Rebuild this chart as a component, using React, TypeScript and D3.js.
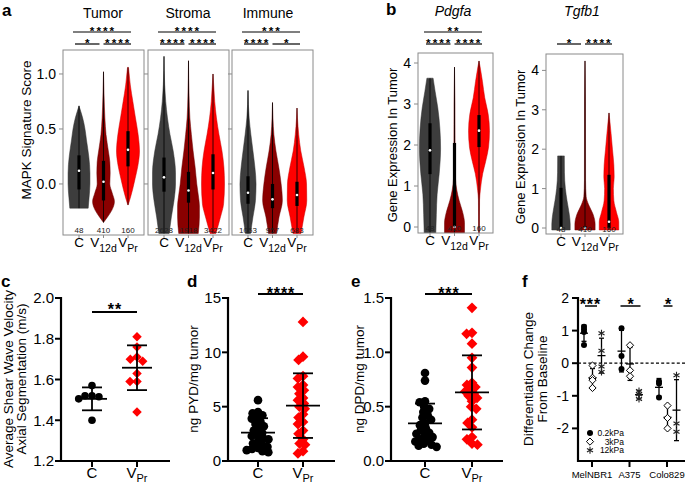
import React from "react";
import * as d3 from "d3";

const FONT = "'Liberation Sans', Arial, Helvetica, sans-serif";
const COLORS = ["#3d3d3d", "#8a0000", "#ff0000"];

// ---------- Panel a data ----------
const conditions = ["C", "V12d", "VPr"];
const catLabels = [
  { main: "C", sub: "" },
  { main: "V", sub: "12d" },
  { main: "V", sub: "Pr" },
];
const compartments = ["Tumor", "Stroma", "Immune"];
const compartmentN = [
  [48, 410, 160],
  [2628, 1918, 3422],
  [1053, 957, 683],
];
const mapkTicks = [0, 0.5, 1.0];
// violin profiles: [score, relative density]
const mapkProfiles = [
  [
    [[-0.22, 0.8], [-0.12, 0.88], [0.0, 0.95], [0.1, 0.95], [0.25, 0.85], [0.4, 0.65], [0.5, 0.52], [0.6, 0.32], [0.66, 0.15], [0.71, 0]],
    [[-0.35, 0], [-0.3, 0.35], [-0.24, 0.72], [-0.16, 0.95], [-0.08, 0.75], [0.0, 0.55], [0.1, 0.58], [0.2, 0.55], [0.3, 0.42], [0.45, 0.22], [0.6, 0.12], [0.8, 0.05], [1.02, 0]],
    [[-0.19, 0.02], [-0.12, 0.22], [-0.05, 0.4], [0.05, 0.62], [0.16, 0.85], [0.3, 1.0], [0.45, 0.88], [0.6, 0.65], [0.75, 0.42], [0.9, 0.2], [1.0, 0.1], [1.06, 0.04]],
  ],
  [
    [[-0.45, 0.45], [-0.3, 0.64], [-0.15, 0.87], [0.0, 1.0], [0.1, 1.0], [0.3, 0.8], [0.45, 0.52], [0.6, 0.3], [0.75, 0.15], [0.9, 0.06], [1.16, 0]],
    [[-0.45, 0.85], [-0.3, 0.95], [-0.2, 0.95], [-0.1, 0.85], [0.0, 0.72], [0.15, 0.58], [0.3, 0.4], [0.45, 0.25], [0.6, 0.12], [0.8, 0.05], [1.12, 0]],
    [[-0.45, 0.25], [-0.3, 0.65], [-0.18, 0.92], [0.0, 1.0], [0.15, 0.95], [0.3, 0.78], [0.45, 0.52], [0.6, 0.3], [0.75, 0.15], [0.9, 0.06], [1.0, 0]],
  ],
  [
    [[-0.45, 0.22], [-0.3, 0.43], [-0.15, 0.65], [0.0, 0.7], [0.15, 0.6], [0.3, 0.43], [0.45, 0.25], [0.6, 0.1], [0.85, 0]],
    [[-0.45, 0.35], [-0.3, 0.57], [-0.15, 0.86], [0.0, 0.75], [0.15, 0.55], [0.3, 0.3], [0.45, 0.12], [0.6, 0.04], [0.74, 0]],
    [[-0.45, 0.35], [-0.3, 0.6], [-0.15, 0.85], [0.0, 0.83], [0.15, 0.62], [0.3, 0.33], [0.45, 0.15], [0.6, 0.04], [0.69, 0]],
  ],
];
// [q1, median, q3]
const mapkBoxes = [
  [[-0.05, 0.12, 0.26], [-0.15, 0.02, 0.21], [0.16, 0.31, 0.48]],
  [[-0.07, 0.06, 0.24], [-0.17, -0.06, 0.11], [-0.05, 0.1, 0.27]],
  [[-0.18, -0.08, 0.07], [-0.22, -0.14, 0.0], [-0.2, -0.1, 0.02]],
];
const mapkSig = [
  [{ from: 0, to: 2, label: "****", level: 0 }, { from: 0, to: 1, label: "*", level: 1 }, { from: 1, to: 2, label: "****", level: 1 }],
  [{ from: 0, to: 2, label: "****", level: 0 }, { from: 0, to: 1, label: "****", level: 1 }, { from: 1, to: 2, label: "****", level: 1 }],
  [{ from: 0, to: 2, label: "***", level: 0 }, { from: 0, to: 1, label: "****", level: 1 }, { from: 1, to: 2, label: "*", level: 1 }],
];

// ---------- Panel b data ----------
const genes = ["Pdgfa", "Tgfb1"];
const geneN = [48, 410, 160];
const geneTicks = [0, 1, 2, 3, 4];
const geneProfiles = [
  [
    [[-0.2, 0.5], [0.3, 0.55], [0.8, 0.62], [1.3, 0.8], [1.9, 0.92], [2.4, 0.86], [2.9, 0.68], [3.3, 0.45], [3.63, 0.27]],
    [[-0.2, 0.87], [0.1, 0.87], [0.35, 0.72], [0.65, 0.4], [0.9, 0.2], [1.2, 0.08], [2.0, 0.05], [3.0, 0.04], [3.9, 0]],
    [[-0.2, 0.03], [0.66, 0.05], [0.9, 0.12], [1.3, 0.32], [1.6, 0.58], [1.95, 0.83], [2.35, 0.91], [2.75, 0.8], [3.15, 0.5], [3.55, 0.3], [3.9, 0.1], [4.05, 0]],
  ],
  [
    [[-0.05, 0.8], [0.1, 0.8], [0.35, 0.72], [0.7, 0.52], [1.0, 0.38], [1.4, 0.3], [1.83, 0.29]],
    [[-0.05, 0.88], [0.1, 0.88], [0.35, 0.7], [0.6, 0.3], [0.8, 0.1], [1.2, 0.05], [3.2, 0.04], [4.24, 0]],
    [[-0.05, 0.85], [0.15, 0.85], [0.4, 0.65], [0.7, 0.42], [1.0, 0.38], [1.3, 0.45], [1.6, 0.42], [2.0, 0.3], [2.4, 0.18], [2.7, 0.08], [2.92, 0]],
  ],
];
const geneBoxes = [
  [[1.29, 1.87, 2.53], [0, 0, 2.05], [1.95, 2.35, 2.73]],
  [[0, 0, 1.02], [0, 0, 0.05], [0, 0.16, 1.35]],
];
const geneSig = [
  [{ from: 0, to: 2, label: "**", level: 0 }, { from: 0, to: 1, label: "****", level: 1 }, { from: 1, to: 2, label: "****", level: 1 }],
  [{ from: 0, to: 1, label: "*", level: 1 }, { from: 1, to: 2, label: "****", level: 1 }],
];

// ---------- Panels c, d, e data ----------
const groupsCE = ["C", "VPr"];
const shearC = [1.57, 1.52, 1.515, 1.505, 1.52, 1.4];
const shearVPr = [1.81, 1.76, 1.7, 1.71, 1.69, 1.63, 1.59, 1.59, 1.44];
const shearTicks = [1.2, 1.4, 1.6, 1.8, 2.0];
const pydC = [5.6, 4.5, 4.4, 4.2, 4.0, 3.9, 3.6, 3.4, 3.2, 3.0, 2.8, 2.6, 2.4, 2.3, 2.1, 2.0, 1.8, 1.6, 1.5, 1.3, 1.2, 1.1, 1.0, 0.9, 0.8];
const pydVPr = [12.8, 9.6, 9.3, 7.8, 7.6, 7.0, 6.8, 6.5, 6.2, 5.8, 5.6, 5.3, 5.0, 4.8, 4.3, 4.0, 3.6, 3.4, 2.8, 2.5, 2.0, 1.6, 1.5, 0.9, 0.7];
const pydTicks = [0, 5, 10, 15];
const dpdC = [0.81, 0.74, 0.55, 0.54, 0.5, 0.48, 0.45, 0.42, 0.4, 0.38, 0.35, 0.33, 0.3, 0.28, 0.26, 0.25, 0.23, 0.22, 0.2, 0.19, 0.18, 0.16, 0.15, 0.14, 0.13];
const dpdVPr = [1.41, 1.18, 1.17, 1.08, 0.95, 0.86, 0.72, 0.7, 0.68, 0.66, 0.64, 0.62, 0.6, 0.58, 0.55, 0.5, 0.48, 0.38, 0.35, 0.31, 0.22, 0.2, 0.16, 0.15];
const dpdTicks = [0, 0.5, 1.0, 1.5];

// ---------- Panel f data ----------
const cellLines = ["MelNBR1", "A375", "Colo829"];
const stiffness = ["0.2kPa", "3kPa", "12kPa"];
const diffValues = [
  [[1.12, 1.04, 0.96, 0.56], [-0.07, -0.45, -0.52, -0.76], [0.92, 0.38, -0.1, -0.27]],
  [[1.07, 0.22, -0.18], [0.55, -0.22, -0.4], [-0.85, -0.95, -1.1]],
  [[-0.55, -0.62, -1.05], [-1.3, -1.68, -2.0], [-0.37, -1.85, -2.1]],
];
const diffTicks = [-2, -1, 0, 1, 2];
const diffSig = ["***", "*", "*"];

// ---------- helpers ----------
function beeswarm(values: number[], y: (v: number) => number, minDist: number) {
  const order = values.map((v, i) => ({ i, py: y(v) })).sort((a, b) => a.py - b.py);
  const placed: { x: number; y: number }[] = [];
  const out: number[] = new Array(values.length).fill(0);
  for (const p of order) {
    const iv: [number, number][] = [];
    for (const q of placed) {
      const dy = Math.abs(q.y - p.py);
      if (dy < minDist) {
        const dx = Math.sqrt(minDist * minDist - dy * dy);
        iv.push([q.x - dx, q.x + dx]);
      }
    }
    const cands = [0];
    iv.forEach(([a, b]) => cands.push(a, b));
    cands.sort((a, b) => Math.abs(a) - Math.abs(b) || a - b);
    let chosen = 0;
    for (const c of cands) {
      if (iv.every(([a, b]) => c <= a + 1e-6 || c >= b - 1e-6)) {
        chosen = c;
        break;
      }
    }
    placed.push({ x: chosen, y: p.py });
    out[p.i] = chosen;
  }
  return out;
}

const diamondPath = (r: number) => `M0,${-r}L${r},0L0,${r}L${-r},0Z`;

function Stars({ x, cy, label, fs, ls }: { x: number; cy: number; label: string; fs: number; ls: number }) {
  return (
    <text x={x + ls / 2} y={cy + 0.57 * fs} textAnchor="middle" fontSize={fs} fontWeight="bold" fontFamily={FONT} letterSpacing={ls}>
      {label}
    </text>
  );
}

function CatLabel({ x, y, i, fs, subFs, subDy }: any) {
  const c = catLabels[i];
  return (
    <text x={x} y={y} textAnchor="middle" fontSize={fs} fontFamily={FONT}>
      {c.main}
      {c.sub && (
        <tspan fontSize={subFs} dy={subDy}>
          {c.sub}
        </tspan>
      )}
    </text>
  );
}

function ViolinPanel({ id, left, right, top, bottom, domain, profiles, boxes, ticks, tickFmt, showLabels, nCounts, sig, title, italic, titleX, titleY, padL, padR, half }: any) {
  const y = d3.scaleLinear().domain(domain).range([bottom, top]);
  const x = d3.scalePoint<string>().domain(conditions).range([left + padL, right - padR]);
  const area = d3
    .area<number[]>()
    .y((d) => y(d[0]))
    .x0((d) => 0 - d[1] * half)
    .x1((d) => 0 + d[1] * half)
    .curve(d3.curveMonotoneY);
  const sigY = [32, 44];
  return (
    <g>
      <defs>
        <clipPath id={id}>
          <rect x={left} y={top} width={right - left} height={bottom - top} />
        </clipPath>
      </defs>
      <g clipPath={`url(#${id})`}>
        {profiles.map((p: number[][], i: number) => {
          const cx = x(conditions[i])!;
          const b = boxes[i];
          return (
            <g key={i} transform={`translate(${cx},0)`}>
              <path d={area(p) || ""} fill={COLORS[i]} stroke={d3.color(COLORS[i])!.darker(0.7).toString()} strokeWidth={0.5} />
              <line x1={0} x2={0} y1={y(p[0][0])} y2={y(p[p.length - 1][0])} stroke="#000" strokeWidth={0.8} />
              <rect x={-1.6} width={3.2} y={y(b[2])} height={Math.max(0.5, y(b[0]) - y(b[2]))} fill="#000" />
              <circle cx={0} cy={y(b[1])} r={1.3} fill="#fff" />
            </g>
          );
        })}
      </g>
      <rect x={left} y={top} width={right - left} height={bottom - top} fill="none" stroke="#8a8a8a" strokeWidth={1} />
      {ticks.map((t: number) => (
        <g key={t}>
          <line x1={left - 4} x2={left} y1={y(t)} y2={y(t)} stroke="#8a8a8a" />
          {showLabels && (
            <text x={left - 7} y={y(t)} dy="0.36em" textAnchor="end" fontSize={14} fontFamily={FONT}>
              {tickFmt(t)}
            </text>
          )}
        </g>
      ))}
      {conditions.map((c, i) => (
        <g key={c}>
          <line x1={x(c)} x2={x(c)} y1={bottom} y2={bottom + 3} stroke="#8a8a8a" />
          <text x={x(c)} y={bottom - 2} textAnchor="middle" fontSize={8} fill="#222" fontFamily={FONT}>
            {nCounts[i]}
          </text>
          <CatLabel x={x(c)} y={bottom + 11.5} i={i} fs={13.5} subFs={10.5} subDy={5} />
        </g>
      ))}
      <text x={titleX} y={titleY} textAnchor="middle" fontSize={14} fontStyle={italic ? "italic" : "normal"} fontFamily={FONT}>
        {title}
      </text>
      {sig.map((s: any, k: number) => {
        const x1 = s.level === 0 ? x(conditions[s.from])! - 6 : x(conditions[s.from])! - (s.from === 0 ? 4 : 0);
        const x2 = s.level === 0 ? x(conditions[s.to])! + 3 : x(conditions[s.to])! + (s.to === 2 ? 3 : -4);
        const ly = sigY[s.level];
        return (
          <g key={k}>
            <line x1={x1} x2={x2} y1={ly} y2={ly} stroke="#000" strokeWidth={1.2} />
            <Stars x={(x1 + x2) / 2} cy={ly - 4} label={s.label} fs={11.8} ls={2} />
          </g>
        );
      })}
    </g>
  );
}

function ErrorBar({ cx, y, values, meanHalf, capHalf, sw }: any) {
  const m = d3.mean(values)!;
  const sd = d3.deviation(values)!;
  return (
    <g stroke="#000" strokeWidth={sw}>
      <line x1={cx} x2={cx} y1={y(m + sd)} y2={y(m - sd)} />
      <line x1={cx - meanHalf} x2={cx + meanHalf} y1={y(m)} y2={y(m)} />
      <line x1={cx - capHalf} x2={cx + capHalf} y1={y(m + sd)} y2={y(m + sd)} />
      <line x1={cx - capHalf} x2={cx + capHalf} y1={y(m - sd)} y2={y(m - sd)} />
    </g>
  );
}

function ScatterPanel({ axisX, xEnd, catRange, domain, ticks, tickFmt, series, labelLines, labelXs, sigLabel, sigCy, sigY, r, minDist, meanHalf, capHalf, letter, letterX }: any) {
  const top = 298;
  const bottom = 461;
  const y = d3.scaleLinear().domain(domain).range([bottom, top]);
  const x = d3.scalePoint<string>().domain(groupsCE).range(catRange);
  const labelCy = 379;
  return (
    <g>
      <text x={letterX} y={287} fontSize={17} fontWeight="bold" fontFamily={FONT}>
        {letter}
      </text>
      {series.map((vals: number[], gi: number) => {
        const offs = beeswarm(vals, y, minDist);
        const cx = x(groupsCE[gi])!;
        return (
          <g key={gi}>
            {vals.map((v, k) =>
              gi === 0 ? (
                <circle key={k} cx={cx + offs[k]} cy={y(v)} r={r} fill="#000" />
              ) : (
                <path key={k} d={diamondPath(r * 1.25)} transform={`translate(${cx + offs[k]},${y(v)})`} fill="#ff0000" />
              )
            )}
            <ErrorBar cx={cx} y={y} values={vals} meanHalf={meanHalf} capHalf={capHalf} sw={1.8} />
          </g>
        );
      })}
      <line x1={axisX} x2={axisX} y1={top - 1} y2={bottom + 1} stroke="#000" strokeWidth={2.2} />
      <line x1={axisX - 1} x2={xEnd} y1={bottom} y2={bottom} stroke="#000" strokeWidth={2.2} />
      {ticks.map((t: number) => (
        <g key={t}>
          <line x1={axisX - 6} x2={axisX} y1={y(t)} y2={y(t)} stroke="#000" strokeWidth={2} />
          <text x={axisX - 7} y={y(t)} dy="0.36em" textAnchor="end" fontSize={15} fontFamily={FONT}>
            {tickFmt(t)}
          </text>
        </g>
      ))}
      {groupsCE.map((g, i) => (
        <g key={g}>
          <line x1={x(g)} x2={x(g)} y1={bottom} y2={bottom + 6} stroke="#000" strokeWidth={2} />
          <CatLabel x={x(g)} y={478} i={i === 0 ? 0 : 2} fs={15} subFs={11} subDy={4} />
        </g>
      ))}
      {labelLines.map((l: string, k: number) => (
        <text key={k} transform={`translate(${labelXs[k]},${labelCy}) rotate(-90)`} textAnchor="middle" fontSize={13.5} fontFamily={FONT}>
          {l}
        </text>
      ))}
      <line x1={x(groupsCE[0])} x2={x(groupsCE[1])} y1={sigY} y2={sigY} stroke="#000" strokeWidth={1.8} />
      <Stars x={(x(groupsCE[0])! + x(groupsCE[1])!) / 2} cy={sigCy} label={sigLabel} fs={16} ls={0.8} />
    </g>
  );
}

function PanelF() {
  const axisX = 578;
  const top = 298;
  const bottom = 461;
  const y = d3.scaleLinear().domain([-3, 2]).range([bottom, top]);
  const x = d3.scalePoint<string>().domain(cellLines).range([592, 667]);
  const offsets = [-8, 0.5, 9.5];
  const asterisk = d3.symbol(d3.symbolAsterisk, 34)()!;
  const marker = (si: number, key: any, cx: number, cy: number) => {
    if (si === 0) return <circle key={key} cx={cx} cy={cy} r={3} fill="#000" />;
    if (si === 1) return <path key={key} d={diamondPath(3.6)} transform={`translate(${cx},${cy})`} fill="#fff" stroke="#000" strokeWidth={1} />;
    return <path key={key} d={asterisk} transform={`translate(${cx},${cy})`} fill="none" stroke="#222" strokeWidth={1.1} />;
  };
  return (
    <g>
      <text x={522} y={287} fontSize={17} fontWeight="bold" fontFamily={FONT}>
        f
      </text>
      <line x1={axisX} x2={685} y1={y(0)} y2={y(0)} stroke="#000" strokeWidth={1.3} strokeDasharray="3,2.2" />
      {cellLines.map((c, ci) =>
        diffValues[ci].map((vals, si) => {
          const cx = x(c)! + offsets[si];
          const m = d3.mean(vals)!;
          const sd = d3.deviation(vals)!;
          return (
            <g key={`${ci}-${si}`}>
              <g stroke="#000" strokeWidth={1.3}>
                <line x1={cx} x2={cx} y1={y(m + sd)} y2={y(m - sd)} />
                <line x1={cx - 4} x2={cx + 4} y1={y(m)} y2={y(m)} />
                <line x1={cx - 2.5} x2={cx + 2.5} y1={y(m + sd)} y2={y(m + sd)} />
                <line x1={cx - 2.5} x2={cx + 2.5} y1={y(m - sd)} y2={y(m - sd)} />
              </g>
              {vals.map((v, k) => marker(si, k, cx, y(v)))}
            </g>
          );
        })
      )}
      <line x1={axisX} x2={axisX} y1={top - 1} y2={bottom + 1} stroke="#000" strokeWidth={2.2} />
      <line x1={axisX - 1} x2={685} y1={bottom} y2={bottom} stroke="#000" strokeWidth={2.2} />
      {diffTicks.map((t) => (
        <g key={t}>
          <line x1={axisX - 6} x2={axisX} y1={y(t)} y2={y(t)} stroke="#000" strokeWidth={2} />
          <text x={axisX - 9} y={y(t)} dy="0.36em" textAnchor="end" fontSize={14} fontFamily={FONT}>
            {t < 0 ? `-${Math.abs(t)}` : t}
          </text>
        </g>
      ))}
      {cellLines.map((c) => (
        <g key={c}>
          <line x1={x(c)} x2={x(c)} y1={bottom} y2={bottom + 6} stroke="#000" strokeWidth={2} />
          <text x={x(c)} y={478} textAnchor="middle" fontSize={9.5} fontFamily={FONT}>
            {c}
          </text>
        </g>
      ))}
      {["Differentiation Change", "From Baseline"].map((l, k) => (
        <text key={k} transform={`translate(${[533, 547][k]},379) rotate(-90)`} textAnchor="middle" fontSize={13.5} fontFamily={FONT}>
          {l}
        </text>
      ))}
      {cellLines.map((c, ci) => {
        const half = ci === 0 ? 6 : ci === 1 ? 10 : 4.5;
        const lx = ci === 0 ? x(c)! - 1 : x(c)! + 1;
        return (
          <g key={c}>
            <line x1={lx - half} x2={lx + half} y1={306} y2={306} stroke="#000" strokeWidth={1.5} />
            <Stars x={ci === 0 ? x(c)! - 2 : x(c)! + 1} cy={300.5} label={diffSig[ci]} fs={16} ls={0.8} />
          </g>
        );
      })}
      {stiffness.map((s, si) => (
        <g key={s}>
          {marker(si, "m", 590, 433 + si * 8.6)}
          <text x={624} y={433 + si * 8.6} dy="0.36em" textAnchor="end" fontSize={8.5} fontFamily={FONT}>
            {s}
          </text>
        </g>
      ))}
    </g>
  );
}

export default function App() {
  const fmt1 = d3.format(".1f");
  const aLefts = [63, 148, 232];
  return (
    <svg width={685} height={485} style={{ position: "absolute", left: 0, top: 0, background: "#fff" }} fontFamily={FONT}>
      <rect width={685} height={485} fill="#fff" />
      {/* Panel a */}
      <text x={2} y={16} fontSize={17} fontWeight="bold" fontFamily={FONT}>
        a
      </text>
      <text transform="translate(31,130) rotate(-90)" textAnchor="middle" fontSize={13.5} fontFamily={FONT}>
        MAPK Signature Score
      </text>
      {compartments.map((c, gi) => (
        <ViolinPanel
          key={c}
          id={`clipA${gi}`}
          left={aLefts[gi]}
          right={aLefts[gi] + 81}
          top={50}
          bottom={235}
          domain={[-0.464, 1.218]}
          profiles={mapkProfiles[gi]}
          boxes={mapkBoxes[gi]}
          ticks={mapkTicks}
          tickFmt={fmt1}
          showLabels={gi === 0}
          nCounts={compartmentN[gi]}
          sig={mapkSig[gi]}
          title={c}
          italic={false}
          titleX={aLefts[gi] + 40 - (gi === 2 ? 4 : 0)}
          titleY={18}
          padL={16}
          padR={16}
          half={11.5}
        />
      ))}
      {/* Panel b */}
      <text x={386} y={15} fontSize={17} fontWeight="bold" fontFamily={FONT}>
        b
      </text>
      <text transform="translate(397,145) rotate(-90)" textAnchor="middle" fontSize={13} fontFamily={FONT}>
        Gene Expression In Tumor
      </text>
      <text transform="translate(525,147) rotate(-90)" textAnchor="middle" fontSize={13} fontFamily={FONT}>
        Gene Expression In Tumor
      </text>
      <ViolinPanel
        id="clipB0"
        left={418}
        right={493}
        top={53}
        bottom={233}
        domain={[-0.146, 4.244]}
        profiles={geneProfiles[0]}
        boxes={geneBoxes[0]}
        ticks={geneTicks}
        tickFmt={(t: number) => String(t)}
        showLabels={true}
        nCounts={geneN}
        sig={geneSig[0]}
        title={genes[0]}
        italic={true}
        titleX={453}
        titleY={16}
        padL={12}
        padR={14}
        half={11.5}
      />
      <ViolinPanel
        id="clipB1"
        left={546}
        right={623}
        top={54}
        bottom={234}
        domain={[-0.152, 4.416]}
        profiles={geneProfiles[1]}
        boxes={geneBoxes[1]}
        ticks={geneTicks}
        tickFmt={(t: number) => String(t)}
        showLabels={true}
        nCounts={geneN}
        sig={geneSig[1]}
        title={genes[1]}
        italic={true}
        titleX={582}
        titleY={16}
        padL={15}
        padR={14}
        half={11.5}
      />
      {/* Panel c */}
      <ScatterPanel
        axisX={61}
        xEnd={170}
        catRange={[92, 137]}
        domain={[1.2, 2.0]}
        ticks={shearTicks}
        tickFmt={fmt1}
        series={[shearC, shearVPr]}
        labelLines={["Average Shear Wave Velocity", "Axial Segmentation (m/s)"]}
        labelXs={[13, 26]}
        sigLabel="**"
        sigCy={306}
        sigY={312}
        r={3.8}
        minDist={7}
        meanHalf={15}
        capHalf={10}
        letter="c"
        letterX={1}
      />
      <ScatterPanel
        axisX={228}
        xEnd={335}
        catRange={[258, 303]}
        domain={[0, 15]}
        ticks={pydTicks}
        tickFmt={(t: number) => String(t)}
        series={[pydC, pydVPr]}
        labelLines={["ng PYD/mg tumor"]}
        labelXs={[198]}
        sigLabel="****"
        sigCy={290}
        sigY={294}
        r={4.3}
        minDist={5.5}
        meanHalf={17}
        capHalf={10}
        letter="d"
        letterX={187}
      />
      <ScatterPanel
        axisX={391}
        xEnd={503}
        catRange={[425, 472]}
        domain={[0, 1.5]}
        ticks={dpdTicks}
        tickFmt={fmt1}
        series={[dpdC, dpdVPr]}
        labelLines={["ng DPD/mg tumor"]}
        labelXs={[364]}
        sigLabel="***"
        sigCy={290}
        sigY={294}
        r={4.3}
        minDist={5.5}
        meanHalf={17}
        capHalf={10}
        letter="e"
        letterX={351}
      />
      <PanelF />
    </svg>
  );
}
